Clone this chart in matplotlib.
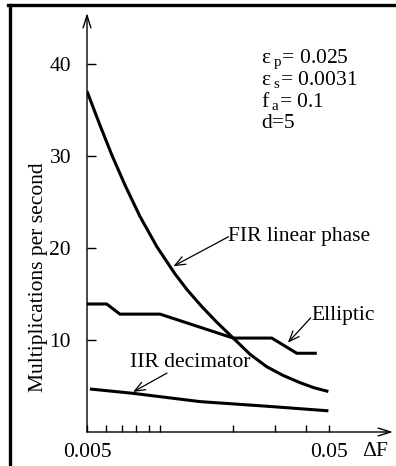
import numpy as np
import matplotlib
matplotlib.use("Agg")
import matplotlib.pyplot as plt
from matplotlib.lines import Line2D

plt.rcParams["font.family"] = ["Liberation Serif", "DejaVu Serif"]
plt.rcParams["mathtext.fontset"] = "custom"
plt.rcParams["mathtext.rm"] = "Liberation Serif"
plt.rcParams["mathtext.it"] = "Liberation Serif:italic"

W, H = 396, 466
FS = 15.5

# Values
fir_df = [0.005, 0.00566, 0.00634, 0.00718, 0.00828, 0.00973, 0.01155, 0.01294,
          0.01489, 0.01722, 0.0201, 0.02355, 0.0276, 0.03226, 0.038, 0.0434, 0.0497]
fir_mps = [37.0, 33.3, 30.05, 26.8, 23.4, 20.1, 17.17, 15.47,
           13.63, 11.9, 10.2, 8.45, 7.1, 6.15, 5.35, 4.8, 4.4]

ell_df = [0.005, 0.00603, 0.00684, 0.01002, 0.0201, 0.029, 0.0368, 0.0445]
ell_mps = [13.9, 13.9, 12.8, 12.8, 10.2, 10.2, 8.55, 8.55]

iir_df = [0.00514, 0.00775, 0.01465, 0.0276, 0.0497]
iir_mps = [4.67, 4.2, 3.3, 2.8, 2.3]

y_ticks = [10, 20, 30, 40]
x_minor = [0.006, 0.007, 0.008, 0.009, 0.01, 0.02, 0.03, 0.04]
x_labels = {0.005: "0.005", 0.05: "0.05"}

# label text, arrow tip, arrow tail, text anchor
labels = [
    ("FIR linear phase", (0.01137, 18.0), (0.0192, 21.2), (0.0192, 21.2)),
    ("Elliptic", (0.0338, 9.7), (0.0420, 12.4), (0.0421, 12.7)),
    ("IIR decimator", (0.00775, 4.35), (0.0107, 6.4), (0.00752, 7.5)),
]

params = [
    (r"ε$_{\ \mathrm{p}}$= 0.025", 63),
    (r"ε$_{\ \mathrm{s}}$= 0.0031", 85),
    (r"f$_{\ \mathrm{a}}$= 0.1", 107),
    ("d=5", 128),
]


def px(x, y):
    return x / W, 1 - y / H


fig = plt.figure(figsize=(W / 100, H / 100), dpi=100)
ax = fig.add_axes([87 / W, 34 / H, (393 - 87) / W, (432 - 13) / H])
ax.set_xscale("log")
ax.set_xlim(0.005, 0.0919)
ax.set_ylim(0, 45.5)
for s in ax.spines.values():
    s.set_visible(False)

lw = 2.2
ax.plot(fir_df, fir_mps, color="black", lw=lw, solid_capstyle="butt")
ax.plot(ell_df, ell_mps, color="black", lw=lw, solid_capstyle="butt", solid_joinstyle="miter")
ax.plot(iir_df, iir_mps, color="black", lw=lw, solid_capstyle="butt")

# axes drawn as arrows
arrow = dict(arrowstyle="->,head_length=0.9,head_width=0.28", color="black", lw=1.0,
             shrinkA=0, shrinkB=0)
ax.annotate("", xy=(0, 1), xytext=(0, 0), xycoords="axes fraction", arrowprops=arrow)
ax.annotate("", xy=(1, 0), xytext=(0, 0), xycoords="axes fraction", arrowprops=arrow)

ax.set_yticks(y_ticks)
ax.set_yticklabels([str(t) for t in y_ticks])
ax.tick_params(axis="y", direction="in", length=6.3, width=1.0, pad=11.5, labelsize=FS)
ax.set_xticks(list(x_labels.keys()))
ax.set_xticklabels(list(x_labels.values()))
ax.set_xticks(x_minor, minor=True)
ax.xaxis.set_minor_formatter(plt.NullFormatter())
ax.tick_params(axis="x", which="both", direction="in", length=5, width=1.0, pad=8, labelsize=FS)

ax.set_ylabel("Multiplications per second", fontsize=FS)
ax.yaxis.set_label_coords(*ax.transAxes.inverted().transform(fig.transFigure.transform(px(48, 277))))

fig.text(*px(375, 451), r"$\Delta$F", fontsize=FS, ha="center", va="center")

thin = dict(arrowstyle="->,head_length=0.75,head_width=0.3", color="black", lw=0.9,
            shrinkA=0, shrinkB=0)
for text, tip, tail, anchor in labels:
    ax.annotate("", xy=tip, xytext=tail, arrowprops=thin)
    ax.text(anchor[0], anchor[1], text, fontsize=FS, ha="left", va="center")

for text, yb in params:
    fig.text(*px(261, yb), text, fontsize=FS, ha="left", va="baseline")

# frame (left and top edges visible)
fig.add_artist(Line2D([px(9.5, 0)[0]] * 2, [px(0, 5)[1], 0], color="black", lw=2.4,
                      transform=fig.transFigure))
fig.add_artist(Line2D([px(8, 0)[0], 1], [px(0, 5)[1]] * 2, color="black", lw=2.4,
                      transform=fig.transFigure))

fig.savefig("out.png", dpi=100)
